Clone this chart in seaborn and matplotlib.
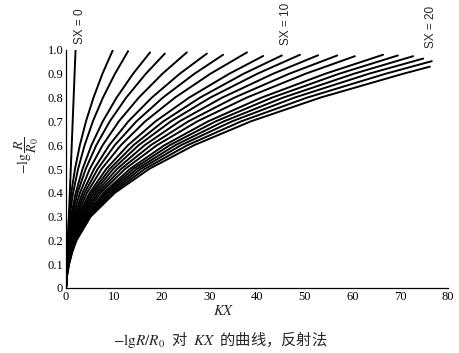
import pandas as pd
import seaborn as sns
import matplotlib
matplotlib.use('Agg')
import matplotlib.pyplot as plt

# -lg(R/R0) levels shared by all curves; the KX lists give where each curve crosses them
Y_LEVELS = [0, 0.05, 0.1, 0.15, 0.2, 0.3, 0.4, 0.5, 0.6, 0.7, 0.8, 0.9]

kx_sx00 = [0, 0.1, 0.2, 0.3, 0.4, 0.6, 0.8, 1.0, 1.2, 1.4, 1.6, 1.8]
kx_sx01 = [0, 0.105, 0.21, 0.315, 0.42, 0.63, 1.11, 1.88, 2.90, 4.18, 5.76, 7.63]
kx_sx02 = [0, 0.105, 0.21, 0.315, 0.42, 0.75, 1.49, 2.53, 3.90, 5.62, 7.74, 10.25]
kx_sx03 = [0, 0.105, 0.21, 0.315, 0.42, 1.03, 2.04, 3.46, 5.33, 7.69, 10.60, 14.04]
kx_sx04 = [0, 0.105, 0.21, 0.315, 0.47, 1.22, 2.42, 4.12, 6.35, 9.16, 12.61, 16.71]
kx_sx05 = [0, 0.105, 0.21, 0.315, 0.56, 1.47, 2.93, 4.97, 7.67, 11.06, 15.24, 20.18]
kx_sx06 = [0, 0.105, 0.21, 0.33, 0.66, 1.74, 3.45, 5.87, 9.05, 13.05, 17.97, 23.81]
kx_sx07 = [0, 0.105, 0.21, 0.38, 0.75, 1.96, 3.90, 6.63, 10.21, 14.74, 20.29, 26.88]
kx_sx08 = [0, 0.105, 0.21, 0.43, 0.84, 2.21, 4.39, 7.45, 11.49, 16.57, 22.82, 30.23]
kx_sx09 = [0, 0.105, 0.21, 0.48, 0.95, 2.50, 4.96, 8.42, 12.98, 18.73, 25.79, 34.17]
kx_sx10 = [0, 0.105, 0.21, 0.52, 1.04, 2.72, 5.39, 9.16, 14.13, 20.38, 28.07, 37.18]
kx_sx11 = [0, 0.11, 0.25, 0.62, 1.16, 2.92, 5.81, 9.87, 15.21, 21.95, 30.22, 40.04]
kx_sx12 = [0, 0.12, 0.30, 0.69, 1.27, 3.17, 6.29, 10.68, 16.47, 23.76, 32.72, 43.35]
kx_sx13 = [0, 0.13, 0.34, 0.76, 1.38, 3.41, 6.78, 11.52, 17.75, 25.61, 35.27, 46.72]
kx_sx14 = [0, 0.14, 0.39, 0.83, 1.49, 3.66, 7.27, 12.36, 19.05, 27.49, 37.85, 50.14]
kx_sx15 = [0, 0.15, 0.43, 0.92, 1.62, 3.96, 7.87, 13.37, 20.62, 29.74, 40.95, 54.26]
kx_sx16 = [0, 0.16, 0.47, 0.99, 1.72, 4.18, 8.29, 14.09, 21.72, 31.34, 43.15, 57.17]
kx_sx17 = [0, 0.17, 0.52, 1.07, 1.83, 4.40, 8.74, 14.85, 22.90, 33.03, 45.48, 60.26]
kx_sx18 = [0, 0.18, 0.56, 1.14, 1.95, 4.63, 9.20, 15.62, 24.09, 34.75, 47.85, 63.39]
kx_sx19 = [0, 0.19, 0.61, 1.22, 2.07, 4.89, 9.70, 16.49, 25.42, 36.67, 50.49, 66.89]
kx_sx20 = [0, 0.20, 0.65, 1.30, 2.20, 5.16, 10.24, 17.40, 26.82, 38.69, 53.27, 70.58]

# end point of each curve (SX = 0 .. 20)
END_KX = [2.0, 9.8, 13.0, 17.6, 20.7, 25.3, 29.5, 32.9, 37.9, 41.3, 45.2,
          49.0, 52.8, 56.8, 60.5, 66.4, 69.5, 72.7, 74.8, 76.6, 76.2]
END_Y = [1.0, 0.999, 0.995, 0.99, 0.985, 0.99, 0.985, 0.98, 0.99, 0.975, 0.977,
         0.98, 0.978, 0.977, 0.974, 0.98, 0.977, 0.974, 0.964, 0.953, 0.93]

CURVES = [kx_sx00, kx_sx01, kx_sx02, kx_sx03, kx_sx04, kx_sx05, kx_sx06,
          kx_sx07, kx_sx08, kx_sx09, kx_sx10, kx_sx11, kx_sx12, kx_sx13,
          kx_sx14, kx_sx15, kx_sx16, kx_sx17, kx_sx18, kx_sx19, kx_sx20]

X_TICKS = [0, 10, 20, 30, 40, 50, 60, 70, 80]
Y_TICKS = [0, 0.1, 0.2, 0.3, 0.4, 0.5, 0.6, 0.7, 0.8, 0.9, 1.0]
Y_TICK_LABELS = ['0', '0.1', '0.2', '0.3', '0.4', '0.5', '0.6', '0.7', '0.8', '0.9', '1.0']

rows = []
for sx, kx in enumerate(CURVES):
    for x, y in zip(kx + [END_KX[sx]], Y_LEVELS + [END_Y[sx]]):
        rows.append({'SX': sx, 'KX': x, 'y': y})
df = pd.DataFrame(rows)

sns.set_style('white')
plt.rcParams['font.family'] = ['Liberation Serif', 'Noto Sans CJK SC']
plt.rcParams['mathtext.fontset'] = 'stix'

fig = plt.figure(figsize=(4.6, 3.53), dpi=100)
ax = fig.add_axes([66 / 460, 65 / 353, 382 / 460, 238 / 353])

sns.lineplot(data=df, x='KX', y='y', units='SX', estimator=None, sort=False,
             color='black', linewidth=1.4, ax=ax, legend=False)

ax.set_xlim(0, 80)
ax.set_ylim(0, 1.0)
ax.set_xticks(X_TICKS)
ax.set_yticks(Y_TICKS)
ax.set_yticklabels(Y_TICK_LABELS)
ax.tick_params(direction='in', length=3, width=0.8, labelsize=9, pad=2,
               colors='black')
for side in ['top', 'right']:
    ax.spines[side].set_visible(False)
for side in ['left', 'bottom']:
    ax.spines[side].set_color('black')
    ax.spines[side].set_linewidth(0.9)
ax.set_xlabel('')
ax.set_ylabel('')

for label, kx, yb in [('SX = 0', 2.9, 1.025), ('SX = 10', 46.0, 1.02), ('SX = 20', 76.4, 1.01)]:
    ax.text(kx, yb, label, rotation=90, ha='center', va='bottom', fontsize=8.5,
            family='Liberation Sans', clip_on=False)

fig.text(27 / 460, 1 - 155 / 353, r'$-\mathrm{lg}\,\dfrac{R}{R_0}$', rotation=90,
         ha='center', va='center', fontsize=10)
fig.text(224 / 460, 1 - 311 / 353, r'$KX$', ha='center', va='center', fontsize=10.5)
fig.text(220 / 460, 1 - 340 / 353, r'$-\mathrm{lg}R/R_0$  对  $KX$  的曲线，反射法',
         ha='center', va='center', fontsize=11, family='Noto Sans CJK SC')

fig.savefig('out.png', dpi=100)
